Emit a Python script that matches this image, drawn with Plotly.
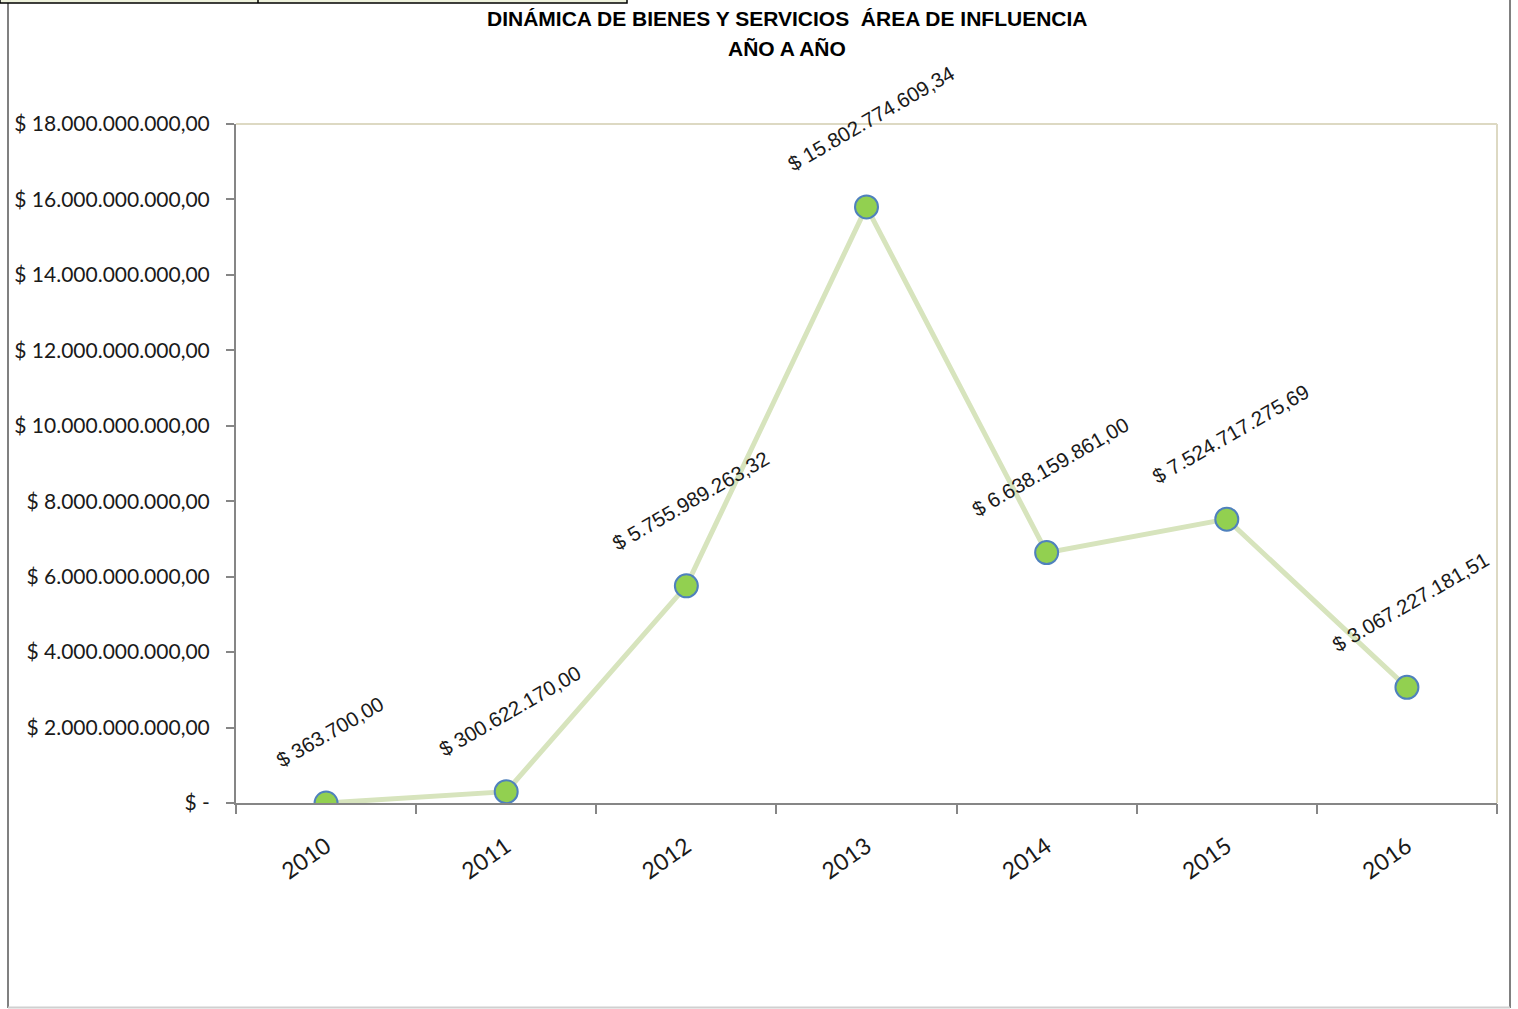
import math
import plotly.graph_objects as go

# ---- data ----
years = ["2010", "2011", "2012", "2013", "2014", "2015", "2016"]
values = [363700.00, 300622170.00, 5755989263.32, 15802774609.34,
          6638159861.00, 7524717275.69, 3067227181.51]
y_tickvals = [0, 2e9, 4e9, 6e9, 8e9, 10e9, 12e9, 14e9, 16e9, 18e9]
title_lines = ["DINÁMICA DE BIENES Y SERVICIOS  ÁREA DE INFLUENCIA", "AÑO A AÑO"]


def fmt_es(v):
    s = f"{v:,.2f}"
    return s.replace(",", "X").replace(".", ",").replace("X", ".")


y_ticktext = ["$ -" if v == 0 else "$ " + fmt_es(v) for v in y_tickvals]
labels = ["$ " + fmt_es(v) for v in values]

W, H = 1518, 1009
L, R, T, B = 236, 1497, 124, 803


def px(x):
    return (x - L) / (R - L)


def py(y):
    return (B - y) / (B - T)


fig = go.Figure()
# invisible trace to activate the boundary-tick axis
fig.add_trace(go.Scatter(x=[0], y=[0], xaxis="x2", yaxis="y", mode="markers",
                         marker=dict(opacity=0), hoverinfo="skip", showlegend=False))
fig.add_trace(go.Scatter(
    x=list(range(len(years))), y=values, mode="lines+markers",
    line=dict(color="#d7e4bd", width=5),
    marker=dict(size=23, color="#92d050", line=dict(color="#4f81bd", width=2)),
    hoverinfo="skip", showlegend=False,
))

angle = 30
label_font = dict(family="Liberation Sans Narrow, Arial Narrow, Liberation Sans", size=20.5, color="#1a1a1a")
for i, (v, t) in enumerate(zip(values, labels)):
    length = len(t) * 9.6
    shift = 0.5 * (length * math.sin(math.radians(angle)) + 20 * math.cos(math.radians(angle))) + 34
    fig.add_annotation(x=i, y=v, xref="x", yref="y", text=t, showarrow=False, textangle=-angle,
                       xanchor="center", yanchor="middle", yshift=shift, xshift=4,
                       font=label_font)

title_font = dict(family="Liberation Sans Narrow, Arial Narrow, Liberation Sans", size=21,
                  color="#000000", weight="bold")
fig.add_annotation(xref="paper", yref="paper", x=px(787), y=py(18), text=title_lines[0],
                   showarrow=False, xanchor="center", yanchor="middle", font=title_font)
fig.add_annotation(xref="paper", yref="paper", x=px(787), y=py(49), text=title_lines[1],
                   showarrow=False, xanchor="center", yanchor="middle", font=title_font)

shapes = [
    # plot area light border (top / right)
    dict(type="line", xref="paper", yref="paper", x0=0, x1=1, y0=1, y1=1,
         line=dict(color="#ddd9c3", width=2)),
    dict(type="line", xref="paper", yref="paper", x0=1, x1=1, y0=0, y1=1,
         line=dict(color="#ddd9c3", width=2)),
    # outer frame
    dict(type="line", xref="paper", yref="paper", x0=px(8), x1=px(8), y0=py(1008), y1=py(-5),
         line=dict(color="#808080", width=2)),
    dict(type="line", xref="paper", yref="paper", x0=px(1510), x1=px(1510), y0=py(1008), y1=py(-5),
         line=dict(color="#808080", width=2)),
    dict(type="line", xref="paper", yref="paper", x0=px(8), x1=px(1510), y0=py(1007.5), y1=py(1007.5),
         line=dict(color="#d0d0d0", width=2)),
    # top-left cell strip
    dict(type="rect", xref="paper", yref="paper", x0=px(0), x1=px(627), y0=py(3), y1=py(-6),
         fillcolor="#eef2dc", line=dict(color="#000000", width=1.5)),
    dict(type="line", xref="paper", yref="paper", x0=px(258), x1=px(258), y0=py(3), y1=py(-6),
         line=dict(color="#000000", width=1.5)),
]

fig.update_layout(
    width=W, height=H,
    margin=dict(l=L, r=W - R, t=T, b=H - B, autoexpand=False),
    paper_bgcolor="white", plot_bgcolor="white",
    shapes=shapes,
    xaxis=dict(
        range=[-0.5, 6.5], tickvals=list(range(len(years))), ticktext=years,
        showgrid=False, showline=True, linecolor="#868686", linewidth=2,
        ticks="", zeroline=False,
        tickangle=-35, ticklabelstandoff=19,
        tickfont=dict(family="Lato", size=23, color="#1a1a1a"),
    ),
    xaxis2=dict(
        overlaying="x", range=[-0.5, 6.5], tickvals=[i - 0.5 for i in range(len(years) + 1)],
        showticklabels=False, showgrid=False, showline=False, zeroline=False,
        ticks="outside", ticklen=10, tickcolor="#868686", tickwidth=2, side="bottom",
        anchor="y",
    ),
    yaxis=dict(
        range=[0, 18e9], tickvals=y_tickvals, ticktext=y_ticktext,
        showgrid=False, showline=True, linecolor="#868686", linewidth=2,
        ticks="outside", ticklen=8, tickcolor="#868686", tickwidth=2,
        ticklabelstandoff=12,
        tickfont=dict(family="Lato", size=21, color="#1a1a1a"),
        zeroline=False,
    ),
)

fig.write_html("out.html", config={"displayModeBar": False},
               post_script="document.body.style.margin='0';document.body.style.overflow='hidden';")
